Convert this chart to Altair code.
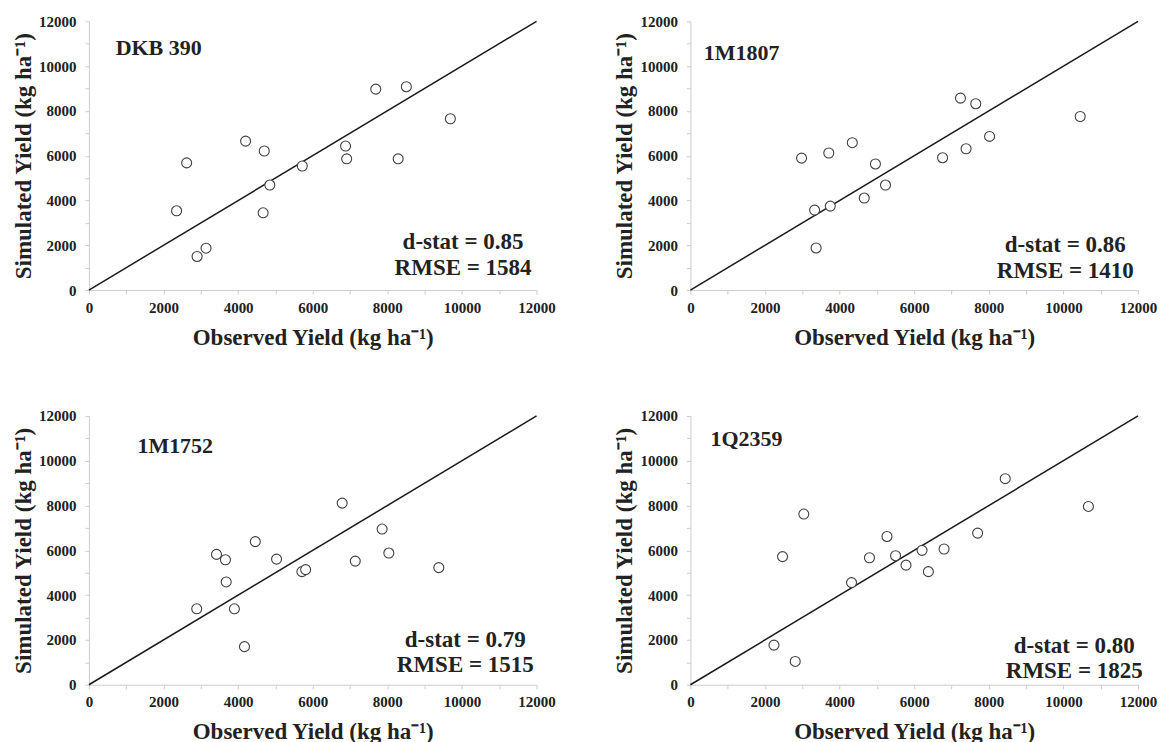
import altair as alt
import pandas as pd

# ---------------- data ----------------
names = ["DKB 390", "1M1807", "1M1752", "1Q2359"]

obs_dkb390 = [2350, 2620, 2900, 3140, 4200, 4700, 4670, 4850, 5720, 6880, 6910, 7690, 8510, 8290, 9690]
sim_dkb390 = [3540, 5680, 1500, 1870, 6650, 6210, 3450, 4690, 5540, 6430, 5860, 8970, 9080, 5860, 7650]

obs_1m1807 = [2980, 3330, 3370, 3710, 3750, 4340, 4660, 4960, 5230, 6760, 7240, 7650, 7390, 8020, 10450]
sim_1m1807 = [5890, 3570, 1880, 6120, 3750, 6580, 4110, 5630, 4690, 5910, 8570, 8320, 6310, 6860, 7750]

obs_1m1752 = [2890, 3420, 3660, 3680, 3900, 4170, 4460, 5030, 5710, 5810, 6790, 7140, 7860, 8040, 9380]
sim_1m1752 = [3390, 5820, 5580, 4590, 3390, 1700, 6390, 5610, 5050, 5140, 8110, 5520, 6950, 5880, 5230]

obs_1q2359 = [2240, 2470, 2810, 3040, 4320, 4800, 5270, 5500, 5780, 6210, 6380, 6800, 7700, 8440, 10670]
sim_1q2359 = [1770, 5720, 1040, 7620, 4560, 5670, 6620, 5760, 5340, 6000, 5050, 6060, 6770, 9200, 7960]

observed = [obs_dkb390, obs_1m1807, obs_1m1752, obs_1q2359]
simulated = [sim_dkb390, sim_1m1807, sim_1m1752, sim_1q2359]

dstat = ["0.85", "0.86", "0.79", "0.80"]
rmse = ["1584", "1410", "1515", "1825"]

one_to_one = [0, 12000]
tick_values = list(range(0, 12001, 1000))

# annotation anchor points (data units)
label_x = [716, 360, 1300, 540]
label_y = [10790, 10570, 10660, 10970]
stat_x = [10030, 10050, 10090, 10290]
stat_y_top = [2140, 2000, 2000, 1740]
stat_y_bot = [980, 860, 860, 600]

# ---------------- style ----------------
FONT = "Liberation Serif"
TXT = "#222222"
AX = "#cccccc"
LABEL_EXPR = "datum.value % 2000 == 0 ? datum.label : ''"

scale = alt.Scale(domain=[0, 12000], nice=False, zero=True)

x_axis = alt.Axis(
    title="Observed Yield (kg ha⁻¹)", values=tick_values, labelExpr=LABEL_EXPR, format="d",
    grid=False, domainColor=AX, tickColor=AX, tickSize=4, labelPadding=6,
    labelFont=FONT, labelFontWeight="bold", labelFontSize=15, labelColor=TXT,
    titleFont=FONT, titleFontWeight="bold", titleFontSize=23, titleColor=TXT, titlePadding=11,
    labelFlush=False, labelOverlap=False,
)
y_axis = alt.Axis(
    title="Simulated Yield (kg ha⁻¹)", values=tick_values, labelExpr=LABEL_EXPR, format="d",
    grid=False, domainColor=AX, tickColor=AX, tickSize=4, labelPadding=9,
    labelFont=FONT, labelFontWeight="bold", labelFontSize=15, labelColor=TXT,
    titleFont=FONT, titleFontWeight="bold", titleFontSize=23, titleColor=TXT, titlePadding=3,
    labelFlush=False, labelOverlap=False,
)


def panel(i):
    pts = pd.DataFrame({"obs": observed[i], "sim": simulated[i]})
    line = pd.DataFrame({"obs": one_to_one, "sim": one_to_one})
    lab = pd.DataFrame({"obs": [label_x[i]], "sim": [label_y[i]], "t": [names[i]]})
    st = pd.DataFrame({
        "obs": [stat_x[i], stat_x[i]],
        "sim": [stat_y_top[i], stat_y_bot[i]],
        "t": [f"d-stat = {dstat[i]}", f"RMSE = {rmse[i]}"],
    })
    x = alt.X("obs:Q", scale=scale, axis=x_axis)
    y = alt.Y("sim:Q", scale=scale, axis=y_axis)

    l = alt.Chart(line).mark_line(color="#1a1a1a", strokeWidth=1.5).encode(x=x, y=y)
    p = alt.Chart(pts).mark_point(
        shape="circle", size=100, filled=True, fill="white", stroke="#404040",
        strokeWidth=1.1, opacity=1,
    ).encode(x=x, y=y)
    t1 = alt.Chart(lab).mark_text(
        align="left", baseline="middle", font=FONT, fontWeight="bold", fontSize=22, color=TXT
    ).encode(x=x, y=y, text="t:N")
    t2 = alt.Chart(st).mark_text(
        align="center", baseline="middle", font=FONT, fontWeight="bold", fontSize=23, color=TXT
    ).encode(x=x, y=y, text="t:N")
    return alt.layer(l, p, t1, t2).properties(width=448, height=269)


chart = alt.concat(
    *[panel(i) for i in range(4)], columns=2,
).properties(
    spacing={"row": 126, "column": 154},
    bounds="flush",
    padding={"left": 12, "top": 14, "right": 5, "bottom": 5},
    background="white",
).configure_view(stroke=None)

chart.save("out.html", embed_options={"renderer": "svg", "actions": False})
